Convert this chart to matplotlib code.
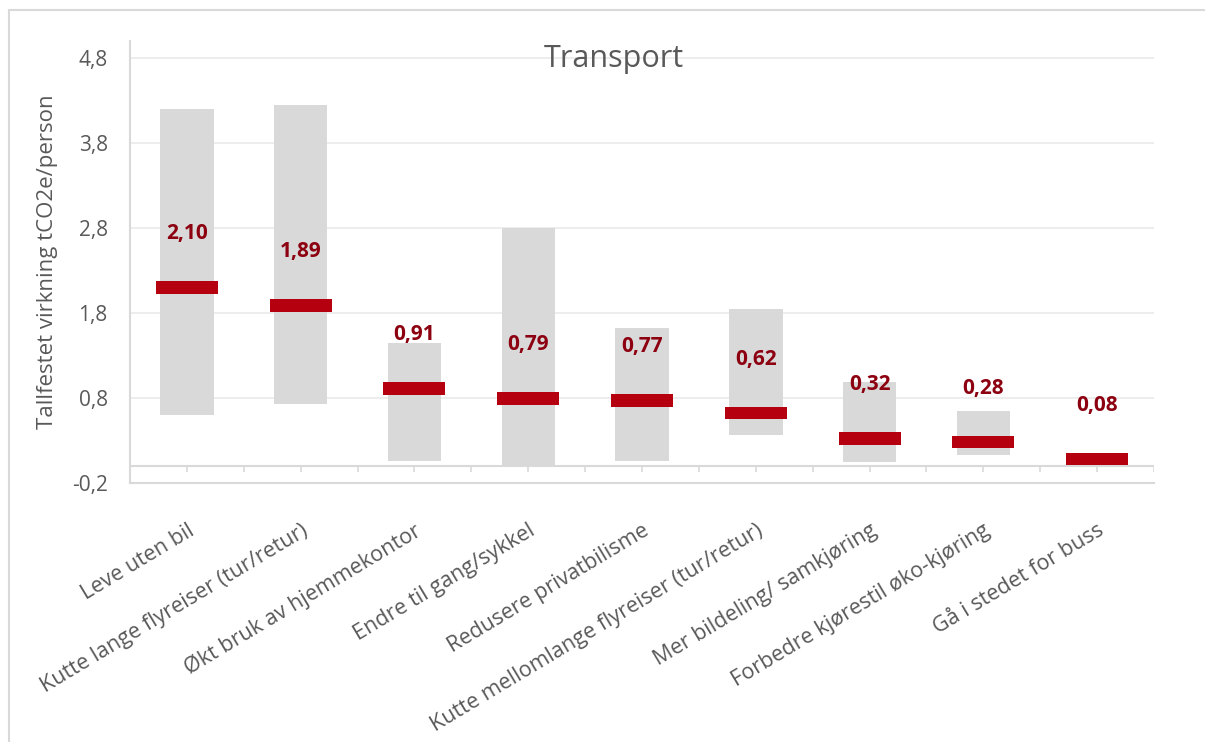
import matplotlib.pyplot as plt
import matplotlib.patches as patches
from matplotlib.ticker import FuncFormatter
import numpy as np

# tiltak (categories) and their estimated effect in tCO2e/person
categories = ['Leve uten bil',
              'Kutte lange flyreiser (tur/retur)',
              'Økt bruk av hjemmekontor',
              'Endre til gang/sykkel',
              'Redusere privatbilisme',
              'Kutte mellomlange flyreiser (tur/retur)',
              'Mer bildeling/ samkjøring',
              'Forbedre kjørestil øko-kjøring',
              'Gå i stedet for buss']
values = [2.10, 1.89, 0.91, 0.79, 0.77, 0.62, 0.32, 0.28, 0.08]
low = [0.60, 0.73, 0.05, 0.00, 0.06, 0.36, 0.04, 0.12, 0.08]
high = [4.20, 4.25, 1.45, 2.80, 1.62, 1.84, 0.99, 0.64, 0.08]
yticks = [-0.2, 0.8, 1.8, 2.8, 3.8, 4.8]

GREY = '#D9D9D9'
RED = '#B4000F'
DARKRED = '#8C0010'
TEXT = '#595959'

plt.rcParams['font.family'] = ['Open Sans', 'DejaVu Sans']

fig = plt.figure(figsize=(12.05, 7.42), dpi=100)
ax = fig.add_axes([0.1079, 0.3495, 0.8498, 0.5952])

x = np.arange(len(categories))
low = np.array(low)
high = np.array(high)
values = np.array(values)

#range bars
ax.bar(x, high - low, bottom=low, width=0.47, color=GREY, zorder=2)
#the value markers, thick red dashes
mark_h = 0.15
ax.bar(x, mark_h, bottom=values - mark_h / 2, width=0.545, color=RED, zorder=3)

for xi, v in zip(x, values):
    ax.text(xi, v + 0.567, '{:.2f}'.format(v).replace('.', ','), ha='center',
            va='baseline', color=DARKRED, fontsize=15, fontweight='bold', zorder=4)

ax.set_xlim(-0.5, len(categories) - 0.5)
ax.set_ylim(-0.2, 5.0)
ax.set_yticks(yticks)
ax.yaxis.set_major_formatter(FuncFormatter(lambda v, p: '{:.1f}'.format(v).replace('.', ',')))
ax.grid(axis='y', color='#EAEAEA', linewidth=1.2, zorder=0)
ax.set_axisbelow(True)

# category axis crosses at 0
ax.axhline(0, color=GREY, linewidth=1.5, zorder=1)
ax.vlines(np.arange(-0.5, len(categories), 0.5), -0.07, 0, color=GREY, linewidth=1.2, zorder=1)

ax.set_xticks(x)
ax.set_xticklabels(categories, rotation=31, ha='right', va='top', rotation_mode='anchor',
                   fontsize=15.5, color=TEXT)
ax.tick_params(axis='x', length=0, pad=27)
ax.tick_params(axis='y', length=0, pad=16, labelsize=15, labelcolor=TEXT)

for s in ['top', 'right']:
    ax.spines[s].set_visible(False)
for s in ['left', 'bottom']:
    ax.spines[s].set_color(GREY)
    ax.spines[s].set_linewidth(1.5)

fig.text(0.509, 0.910, 'Transport', ha='center', va='baseline', fontsize=22, color=TEXT)
fig.text(48 / 1205, 0.647, 'Tallfestet virkning tCO2e/person', rotation=90,
         ha='center', va='center', fontsize=16, color=TEXT)

#chart border
fig.patches.append(patches.Rectangle((9 / 1205, -0.1), 1.1, 0.9865 + 0.1,
                                     transform=fig.transFigure, fill=False,
                                     edgecolor=GREY, linewidth=1.5))

plt.savefig('out.png', dpi=100)
